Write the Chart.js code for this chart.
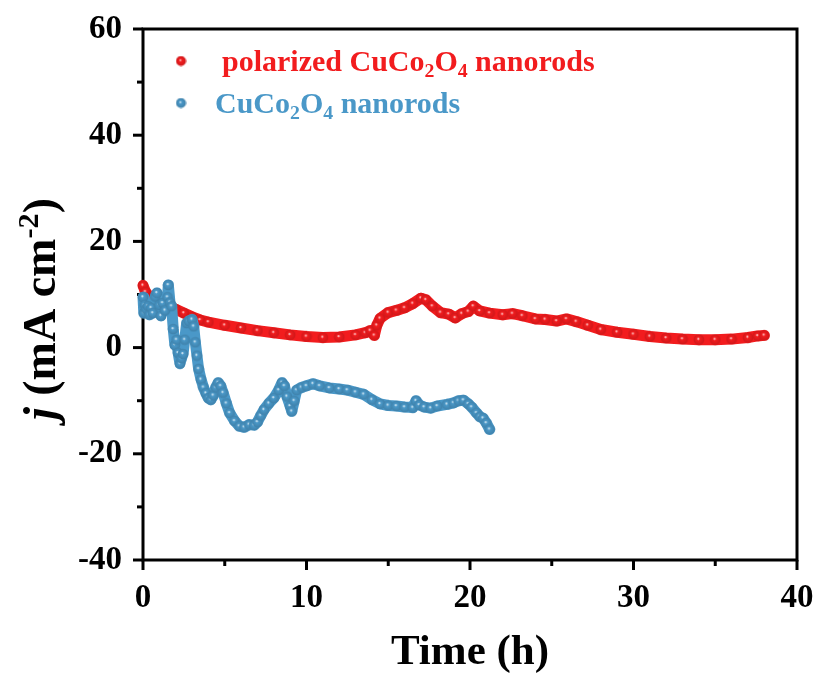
<!DOCTYPE html>
<html>
<head>
<meta charset="utf-8">
<script src="https://cdn.jsdelivr.net/npm/chart.js@4/dist/chart.umd.min.js"></script>
<style>
html,body{margin:0;padding:0;background:#fff;}
#wrap{width:820px;height:677px;position:relative;}
</style>
</head>
<body>
<div id="wrap"><canvas id="c" width="820" height="677"></canvas></div>
<script>
// ---------- data ----------
const seriesNames = ['polarized CuCo_2O_4 nanorods', 'CuCo_2O_4 nanorods'];
const seriesColors = ['#F21C1E', '#4A98C8'];

const polTime = [0, 0.15, 0.5, 1.0, 1.5, 2.0, 2.5, 3.0, 3.5, 4.0, 5.0, 6.0, 7.0, 8.0, 9.0, 10.0, 11.0, 12.0, 13.0, 13.6, 13.9, 14.15, 14.3, 14.5, 15.0, 15.5, 16.0, 16.5, 17.0, 17.3, 17.7, 18.2, 18.7, 19.1, 19.5, 19.9, 20.2, 20.6, 21.2, 22.0, 22.6, 23.2, 24.0, 24.6, 25.3, 25.9, 26.5, 27.2, 28.0, 29.0, 30.0, 31.0, 32.0, 33.0, 34.0, 35.0, 36.0, 37.0, 37.6, 38.0];
const polJ    = [11.7, 10.5, 9.2, 8.4, 7.9, 7.2, 6.5, 5.8, 5.2, 4.8, 4.2, 3.7, 3.2, 2.8, 2.4, 2.1, 1.9, 2.0, 2.4, 2.8, 3.2, 2.3, 4.2, 5.5, 6.6, 7.0, 7.5, 8.3, 9.3, 9.0, 7.8, 6.6, 6.3, 5.6, 6.4, 6.8, 7.8, 6.9, 6.5, 6.2, 6.4, 6.0, 5.4, 5.3, 5.0, 5.4, 4.9, 4.2, 3.4, 2.9, 2.5, 2.1, 1.8, 1.6, 1.5, 1.5, 1.6, 1.9, 2.2, 2.3];

const rawTime = [0.0, 0.05, 0.1, 0.2, 0.3, 0.4, 0.5, 0.6, 0.75, 0.85, 1.0, 1.1, 1.2, 1.35, 1.5, 1.55, 1.65, 1.75, 1.85, 1.95, 2.05, 2.15, 2.26, 2.35, 2.45, 2.55, 2.67, 2.8, 3.0, 3.1, 3.2, 3.3, 3.4, 3.55, 3.7, 3.85, 4.0, 4.15, 4.3, 4.45, 4.6, 4.75, 4.9, 5.1, 5.3, 5.6, 5.9, 6.2, 6.5, 6.8, 7.0, 7.2, 7.4, 7.7, 8.0, 8.3, 8.5, 8.65, 8.8, 9.0, 9.1, 9.25, 9.4, 9.7, 10.0, 10.4, 10.8, 11.4, 12.0, 12.5, 13.0, 13.5, 14.0, 14.5, 15.0, 15.5, 16.0, 16.5, 16.7, 16.9, 17.2, 17.6, 18.0, 18.6, 19.0, 19.3, 19.6, 19.9, 20.1, 20.4, 20.6, 20.8, 21.0, 21.2];
const rawJ    = [9.5, 6.5, 8.0, 7.2, 7.8, 6.2, 7.5, 6.5, 9.6, 10.3, 8.0, 6.0, 8.4, 7.0, 9.5, 11.8, 8.5, 7.8, 3.5, 0.5, 1.5, -1.0, -3.0, -2.0, -1.2, 1.5, 4.6, 5.0, 5.3, 4.0, 1.0, -1.5, -4.0, -6.0, -7.5, -8.6, -9.5, -9.8, -9.0, -7.5, -6.6, -7.2, -8.5, -10.5, -12.3, -13.8, -14.8, -15.0, -14.5, -14.6, -14.0, -12.8, -11.7, -10.5, -9.5, -8.0, -6.6, -7.2, -9.2, -11.0, -12.0, -10.0, -8.0, -7.5, -7.2, -6.8, -7.2, -7.6, -7.8, -8.0, -8.4, -8.8, -9.8, -10.6, -10.9, -11.0, -11.2, -11.3, -10.0, -10.8, -11.2, -11.4, -11.0, -10.7, -10.4, -10.0, -9.9, -10.6, -11.2, -12.3, -13.0, -13.3, -14.2, -15.4];

const xTickValues = [0, 10, 20, 30, 40];
const yTickValues = [-40, -20, 0, 20, 40, 60];
const xTitle = 'Time (h)';
// ---------------------------

const FONT = '"Liberation Serif", "Times New Roman", serif';

function shade(hex, f) {
  const n = parseInt(hex.slice(1), 16);
  const r = Math.round(((n >> 16) & 255) * f), g = Math.round(((n >> 8) & 255) * f), b = Math.round((n & 255) * f);
  return `rgb(${r},${g},${b})`;
}
function sphere(color, r) {
  const s = Math.ceil(r * 2 + 1);
  const c = document.createElement('canvas');
  c.width = s; c.height = s;
  const g = c.getContext('2d');
  const cx = s / 2, cy = s / 2;
  const grad = g.createRadialGradient(cx - r * 0.15, cy - r * 0.2, 0, cx, cy, r);
  grad.addColorStop(0, '#ffffff');
  grad.addColorStop(0.3, color);
  grad.addColorStop(1, shade(color, 0.85));
  g.fillStyle = grad;
  g.beginPath(); g.arc(cx, cy, r, 0, Math.PI * 2); g.fill();
  return c;
}

function toPoints(xs, ys) { return xs.map((x, i) => ({ x: x, y: ys[i] })); }

function parseRich(str) {
  const segs = [];
  let buf = '';
  for (let i = 0; i < str.length; i++) {
    if (str[i] === '_' && i + 1 < str.length) {
      if (buf) { segs.push({ text: buf }); buf = ''; }
      segs.push({ text: str[i + 1], sub: true }); i++;
    } else buf += str[i];
  }
  if (buf) segs.push({ text: buf });
  return segs;
}
function segFont(seg, size) {
  const s = (seg.sub || seg.sup) ? size * 0.66 : size;
  return (seg.italic ? 'italic ' : '') + 'bold ' + s + 'px ' + FONT;
}
function richWidth(ctx, segs, size) {
  let w = 0;
  segs.forEach(s => { ctx.font = segFont(s, size); w += ctx.measureText(s.text).width; });
  return w;
}
function drawRich(ctx, segs, x, y, size, color) {
  ctx.fillStyle = color;
  ctx.textBaseline = 'alphabetic';
  ctx.textAlign = 'left';
  let cx = x;
  segs.forEach(s => {
    ctx.font = segFont(s, size);
    let dy = 0;
    if (s.sub) dy = size * 0.2;
    if (s.sup) dy = -size * 0.38;
    ctx.fillText(s.text, cx, y + dy);
    cx += ctx.measureText(s.text).width;
  });
}

const frameAndTicks = {
  id: 'frameAndTicks',
  beforeDatasetsDraw(chart) {
    const { ctx, chartArea: a, scales: { x, y } } = chart;
    ctx.save();
    ctx.strokeStyle = '#000';
    ctx.lineWidth = 3;
    ctx.lineCap = 'butt';
    ctx.beginPath();
    ctx.rect(a.left, a.top, a.right - a.left, a.bottom - a.top);
    ctx.stroke();
    for (let v = 0; v <= 40; v += 5) {
      const px = x.getPixelForValue(v);
      const len = (v % 10 === 0) ? 10 : 6;
      ctx.beginPath(); ctx.moveTo(px, a.bottom); ctx.lineTo(px, a.bottom + len); ctx.stroke();
    }
    for (let v = -40; v <= 60; v += 10) {
      const py = y.getPixelForValue(v);
      const len = (v % 20 === 0) ? 10 : 6;
      ctx.beginPath(); ctx.moveTo(a.left, py); ctx.lineTo(a.left - len, py); ctx.stroke();
    }
    ctx.restore();
  },
  afterDraw(chart) {
    const { ctx, chartArea: a } = chart;
    ctx.save();
    const ySegs = [
      { text: 'j', italic: true },
      { text: ' (mA cm' },
      { text: '-2', sup: true },
      { text: ')' }
    ];
    const ySize = 46;
    const w = richWidth(ctx, ySegs, ySize);
    ctx.translate(55, 309);
    ctx.rotate(-Math.PI / 2);
    drawRich(ctx, ySegs, -w / 2, 0, ySize, '#000');
    ctx.restore();

    ctx.save();
    const lx = a.left + 38;
    const rows = [a.top + 32, a.top + 74];
    const textX = [a.left + 79, a.left + 72];
    seriesNames.forEach((name, i) => {
      const img = sphere(seriesColors[i], 5);
      ctx.drawImage(img, lx - img.width / 2, rows[i] - img.height / 2);
      drawRich(ctx, parseRich(name), textX[i], rows[i] + 10, 30, seriesColors[i]);
    });
    ctx.restore();
  }
};

const tickFont = { family: FONT, weight: 'bold', size: 33 };

new Chart(document.getElementById('c'), {
  type: 'line',
  data: {
    datasets: [
      {
        label: seriesNames[0].replace(/_/g, ''),
        data: toPoints(polTime, polJ),
        borderColor: seriesColors[0],
        backgroundColor: seriesColors[0],
        borderWidth: 11,
        borderJoinStyle: 'round',
        borderCapStyle: 'round',
        pointStyle: sphere(seriesColors[0], 5.3),
        pointRadius: 5.3,
        tension: 0,
        clip: false,
        order: 1
      },
      {
        label: seriesNames[1].replace(/_/g, ''),
        data: toPoints(rawTime, rawJ),
        borderColor: seriesColors[1],
        backgroundColor: seriesColors[1],
        borderWidth: 11,
        borderJoinStyle: 'round',
        borderCapStyle: 'round',
        pointStyle: sphere(seriesColors[1], 5.3),
        pointRadius: 5.3,
        tension: 0,
        clip: false,
        order: 0
      }
    ]
  },
  options: {
    responsive: false,
    animation: false,
    devicePixelRatio: 1,
    layout: { padding: { top: 29, right: 23, left: 0, bottom: 0 } },
    plugins: { legend: { display: false }, tooltip: { enabled: false } },
    scales: {
      x: {
        type: 'linear', min: 0, max: 40,
        afterBuildTicks: s => { s.ticks = xTickValues.map(v => ({ value: v })); },
        ticks: { font: tickFont, color: '#000', padding: 19, maxRotation: 0, autoSkip: false },
        grid: { display: false, drawTicks: false },
        border: { display: false },
        title: { display: true, text: xTitle, color: '#000', font: { family: FONT, weight: 'bold', size: 43, lineHeight: 1 }, padding: { top: 0, bottom: 3 } },
        afterFit: s => { s.height = 117; s.paddingLeft = 0; s.paddingRight = 0; }
      },
      y: {
        type: 'linear', min: -40, max: 60,
        afterBuildTicks: s => { s.ticks = yTickValues.map(v => ({ value: v })); },
        ticks: { font: tickFont, color: '#000', padding: 21, autoSkip: false },
        grid: { display: false, drawTicks: false },
        border: { display: false },
        afterFit: s => { s.width = 143; s.paddingTop = 0; s.paddingBottom = 0; }
      }
    }
  },
  plugins: [frameAndTicks]
});
</script>
</body>
</html>
